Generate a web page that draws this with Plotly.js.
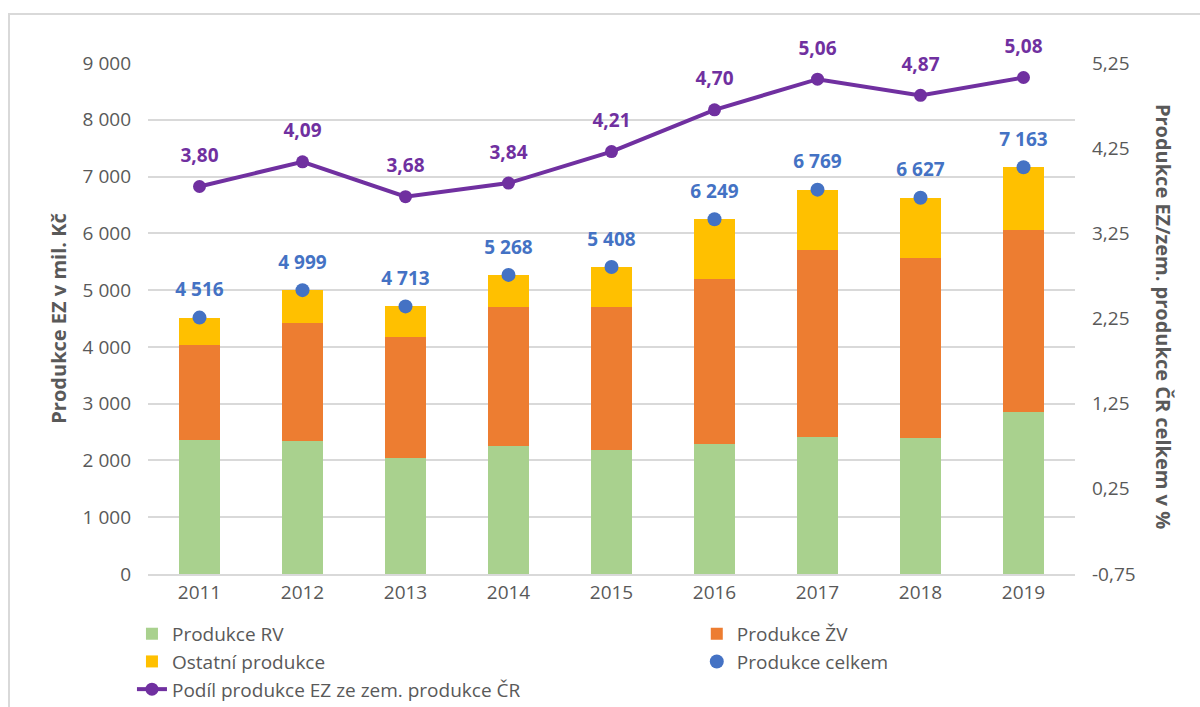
<!DOCTYPE html>
<html><head><meta charset="utf-8">
<script src="https://cdn.plot.ly/plotly-3.0.1.min.js"></script>
<style>
html,body{margin:0;padding:0;background:#fff;}
#frame{position:absolute;left:8px;top:13px;width:1300px;height:800px;border-top:2px solid #d9d9d9;border-left:2px solid #d9d9d9;pointer-events:none;z-index:5;}
#chart{width:1200px;height:707px;}
</style></head>
<body>
<div id="frame"></div>
<div id="chart"></div>
<script>
const years = ['2011','2012','2013','2014','2015','2016','2017','2018','2019'];
const produkceRV = [2352, 2335, 2047, 2247, 2188, 2294, 2412, 2394, 2859];
const produkceZV = [1689, 2094, 2135, 2447, 2506, 2906, 3300, 3177, 3199];
const produkceCelkem = [4516, 4999, 4713, 5268, 5408, 6249, 6769, 6627, 7163];
const ostatni = produkceCelkem.map((t, i) => t - produkceRV[i] - produkceZV[i]);
const podil = [3.80, 4.09, 3.68, 3.84, 4.21, 4.70, 5.06, 4.87, 5.08];
const rightTickVals = [-0.75, 0.25, 1.25, 2.25, 3.25, 4.25, 5.25];
const rightTickText = ['-0,75', '0,25', '1,25', '2,25', '3,25', '4,25', '5,25'];

const FONT = "'Open Sans', 'Noto Sans', sans-serif";
const GRAY = '#595959';
const BLUE = '#4472c4';
const PURPLE = '#7030a0';

const traces = [
  {type:'bar', name:'Produkce RV', x:years, y:produkceRV, marker:{color:'#a9d18e'}, width:0.4, legend:'legend'},
  {type:'bar', name:'Produkce ŽV', x:years, y:produkceZV, marker:{color:'#ed7d31'}, width:0.4, legend:'legend2'},
  {type:'bar', name:'Ostatní produkce', x:years, y:ostatni, marker:{color:'#ffc000'}, width:0.4, legend:'legend'},
  {type:'scatter', mode:'markers', name:'Produkce celkem', x:years, y:produkceCelkem,
   marker:{color:BLUE, size:14}, cliponaxis:false, legend:'legend2'},
  {type:'scatter', mode:'lines+markers', name:'Podíl produkce EZ ze zem. produkce ČR', x:years, y:podil,
   yaxis:'y2', line:{color:PURPLE, width:4}, marker:{color:PURPLE, size:13}, cliponaxis:false, legend:'legend'},
  // data labels (transparent markers give the label offset)
  {type:'scatter', mode:'markers+text', x:years, y:produkceCelkem, showlegend:false, hoverinfo:'skip',
   marker:{color:'rgba(0,0,0,0)', size:25}, texttemplate:'%{y:,.0f}', textposition:'top center',
   textfont:{family:FONT, size:19, color:BLUE, weight:'bold'}, cliponaxis:false},
  {type:'scatter', mode:'markers+text', x:years, y:podil, yaxis:'y2', showlegend:false, hoverinfo:'skip',
   marker:{color:'rgba(0,0,0,0)', size:30}, texttemplate:'%{y:.2f}', textposition:'top center',
   textfont:{family:FONT, size:19, color:PURPLE, weight:'bold'}, cliponaxis:false}
];

const legendCommon = {orientation:'v', xanchor:'left', yanchor:'top', y:-0.08,
  font:{family:FONT, size:19, color:GRAY}, traceorder:'normal', tracegroupgap:0, bgcolor:'rgba(0,0,0,0)'};

const layout = {
  width:1200, height:707,
  margin:{l:148, r:125, t:63, b:133, autoexpand:false},
  separators:', ',
  barmode:'stack',
  paper_bgcolor:'#fff', plot_bgcolor:'#fff',
  font:{family:FONT, color:GRAY, size:19},
  showlegend:true,
  legend:Object.assign({x:-0.0173}, legendCommon),
  legend2:Object.assign({x:0.592}, legendCommon),
  xaxis:{type:'category', range:[-0.5, 8.5], autorange:false, tickfont:{size:19, color:GRAY}, showline:true, linecolor:'#d9d9d9', linewidth:2, ticks:'', showgrid:false},
  yaxis:{range:[0, 9000], dtick:1000, tickformat:',.0f', showgrid:true, gridcolor:'#d9d9d9', gridwidth:2,
    zeroline:false, tickfont:{size:19, color:GRAY}, ticklabelstandoff:16,
    title:{text:'Produkce EZ v mil. Kč', font:{size:20, color:GRAY, weight:'bold'}, standoff:10}},
  yaxis2:{overlaying:'y', side:'right', range:[-0.75, 5.25], tickmode:'array', tickvals:rightTickVals, ticktext:rightTickText,
    showgrid:false, zeroline:false, tickfont:{size:19, color:GRAY}, ticklabelstandoff:16},
  annotations:[{text:'Produkce EZ/zem. produkce ČR celkem v %', xref:'paper', yref:'paper', x:1.095, y:0.505,
    xanchor:'center', yanchor:'middle', textangle:90, showarrow:false,
    font:{family:FONT, size:20, color:GRAY, weight:'bold'}}]
};

Plotly.newPlot('chart', traces, layout, {displayModeBar:false, staticPlot:true});
</script>
</body></html>
